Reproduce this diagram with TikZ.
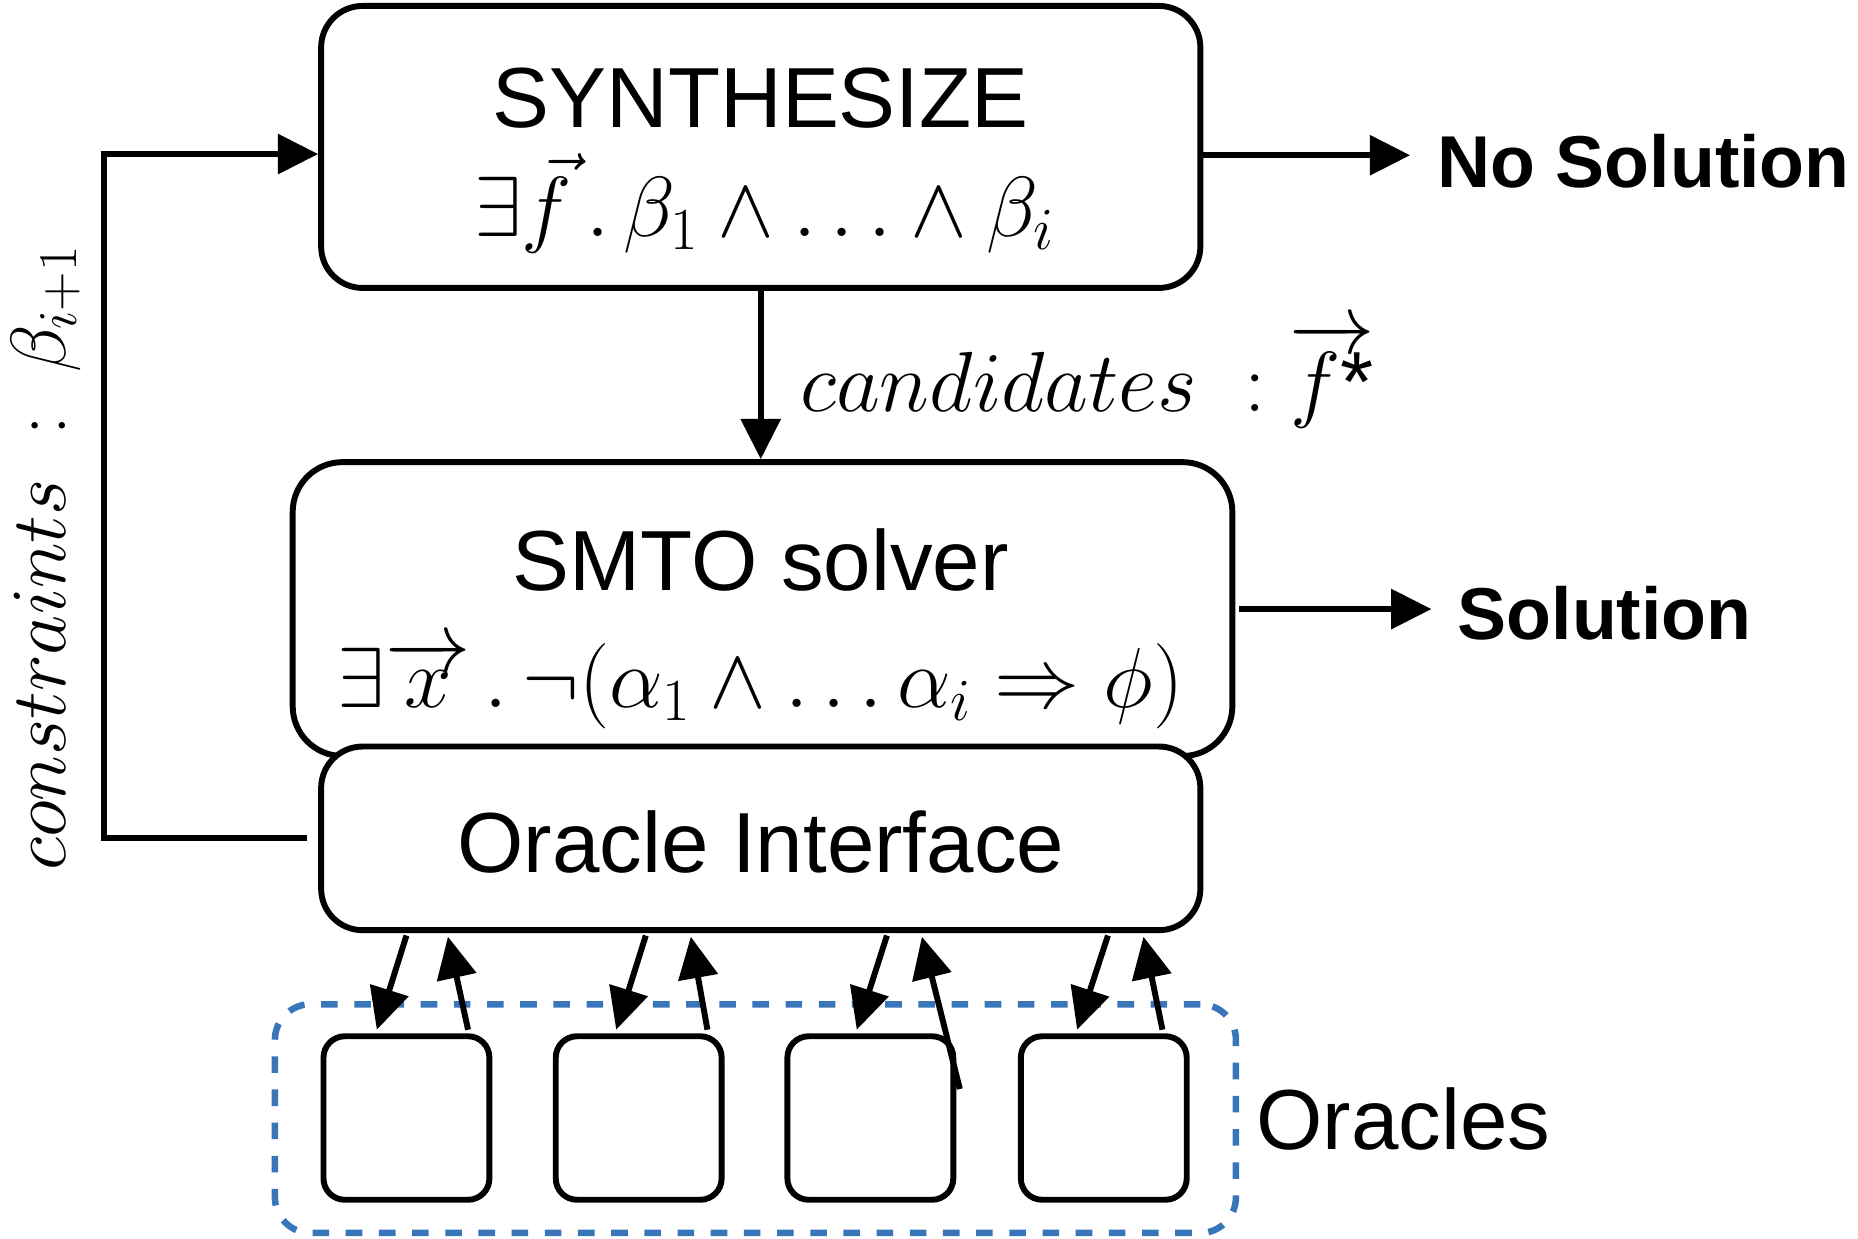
\RequirePackage{fix-cm}
\documentclass[tikz,border=0pt]{standalone}
\usepackage{fontspec}
\setmainfont{Liberation Sans}
\usetikzlibrary{arrows.meta}
\definecolor{oblue}{RGB}{56,117,185}
\begin{document}
\begin{tikzpicture}[x=1pt,y=-1pt,
  box/.style={draw,line width=5pt,fill=white,inner sep=0pt,rounded corners=35pt},
  obox/.style={draw,line width=5pt,fill=white,inner sep=0pt,rounded corners=18pt,minimum width=140pt,minimum height=138pt},
  title/.style={inner sep=0pt,font=\fontsize{72}{80}\selectfont},
  btitle/.style={inner sep=0pt,font=\fontsize{62}{70}\selectfont\bfseries},
  mathtxt/.style={inner sep=0pt,font=\fontsize{72}{80}\selectfont},
  rottxt/.style={inner sep=0pt,font=\fontsize{66}{72}\selectfont},
  arr/.style={line width=5pt,-{Triangle[length=34pt,width=33pt]}},
  oarr/.style={line width=5pt,-{Triangle[length=35pt,width=33pt]}},
  grp/.style={draw=oblue,line width=5.5pt,dash pattern=on 14pt off 14pt,rounded corners=30pt,inner sep=0pt}
]
\useasboundingbox (0,0) rectangle (1568,1045);

% group of oracles
\node[grp,minimum width=811pt,minimum height=193pt] (group) at (637.5,944) {};

% main boxes
\node[box,minimum width=742pt,minimum height=238pt] (synth) at (642,124) {};
\node[box,rounded corners=42pt,minimum width=793pt,minimum height=248pt] (smto) at (643.5,514) {};
\node[box,minimum width=742pt,minimum height=155pt] (oi) at (642,707.5) {};

% oracle boxes
\node[obox] (o1) at (343,943.5) {};
\node[obox] (o2) at (539,943.5) {};
\node[obox] (o3) at (734.5,943.5) {};
\node[obox] (o4) at (931.5,943.5) {};

% texts
\node[title,anchor=base] (synthT) at (642,108) {SYNTHESIZE};
\node[mathtxt,anchor=base] (synthM) at (645,200) {$\exists\vec{f}\,.\,\beta_1\wedge\ldots\wedge\beta_i$};
\node[title,anchor=base] (smtoT) at (642,498) {SMTO solver};
\node[mathtxt,anchor=base] (smtoM) at (642,597) {$\exists\overrightarrow{x}\,.\,\neg(\alpha_1\wedge\ldots\alpha_i\Rightarrow\phi)$};
\node[title,anchor=base] (oiT) at (642,736) {Oracle Interface};
\node[btitle,anchor=base west] (nosol) at (1213,158) {No Solution};
\node[btitle,anchor=base west] (sol) at (1230,540) {Solution};
\node[title,anchor=base west] (orcl) at (1060,970) {Oracles};
\node[mathtxt,anchor=base west] (cand) at (675,347) {$candidates\;\;{:}\;\overrightarrow{f\mbox{*}}$};
\node[rottxt,anchor=base west,rotate=90] (cons) at (55,735) {$constraints\;\;{:}\;\;\beta_{i+1}$};

% connectors
\coordinate (nsEnd) at (1190,131);
\coordinate (solEnd) at (1208,514);
\coordinate (fb) at (88,130);
\draw[arr] (synth.east |- nsEnd) -- (nsEnd);
\draw[arr] ([xshift=3pt]smto.east |- solEnd) -- (solEnd);
\draw[arr] (synth.south) -- (synth.south |- smto.north);
\draw[arr] ([xshift=-9pt]oi.west) -| (fb) -- (synth.west |- fb);

% oracle arrows (yshift is in canvas direction: positive = up)
\draw[oarr] ([xshift=-299pt,yshift=-2pt]oi.south) -- ([xshift=-25pt,yshift=3pt]o1.north);
\draw[oarr] ([xshift=52pt,yshift=3pt]o1.north) -- ([xshift=-264pt,yshift=-3pt]oi.south);
\draw[oarr] ([xshift=-97pt,yshift=-2pt]oi.south) -- ([xshift=-19pt,yshift=3pt]o2.north);
\draw[oarr] ([xshift=58pt,yshift=3pt]o2.north) -- ([xshift=-59pt,yshift=-3pt]oi.south);
\draw[oarr] ([xshift=106.5pt,yshift=-2pt]oi.south) -- ([xshift=-11.5pt,yshift=3pt]o3.north);
\draw[oarr] ([xshift=75.5pt,yshift=-47pt]o3.north) -- ([xshift=136pt,yshift=-3pt]oi.south);
\draw[oarr] ([xshift=293pt,yshift=-2pt]oi.south) -- ([xshift=-22.5pt,yshift=3pt]o4.north);
\draw[oarr] ([xshift=49.5pt,yshift=3pt]o4.north) -- ([xshift=323pt,yshift=-3pt]oi.south);
\end{tikzpicture}
\end{document}
